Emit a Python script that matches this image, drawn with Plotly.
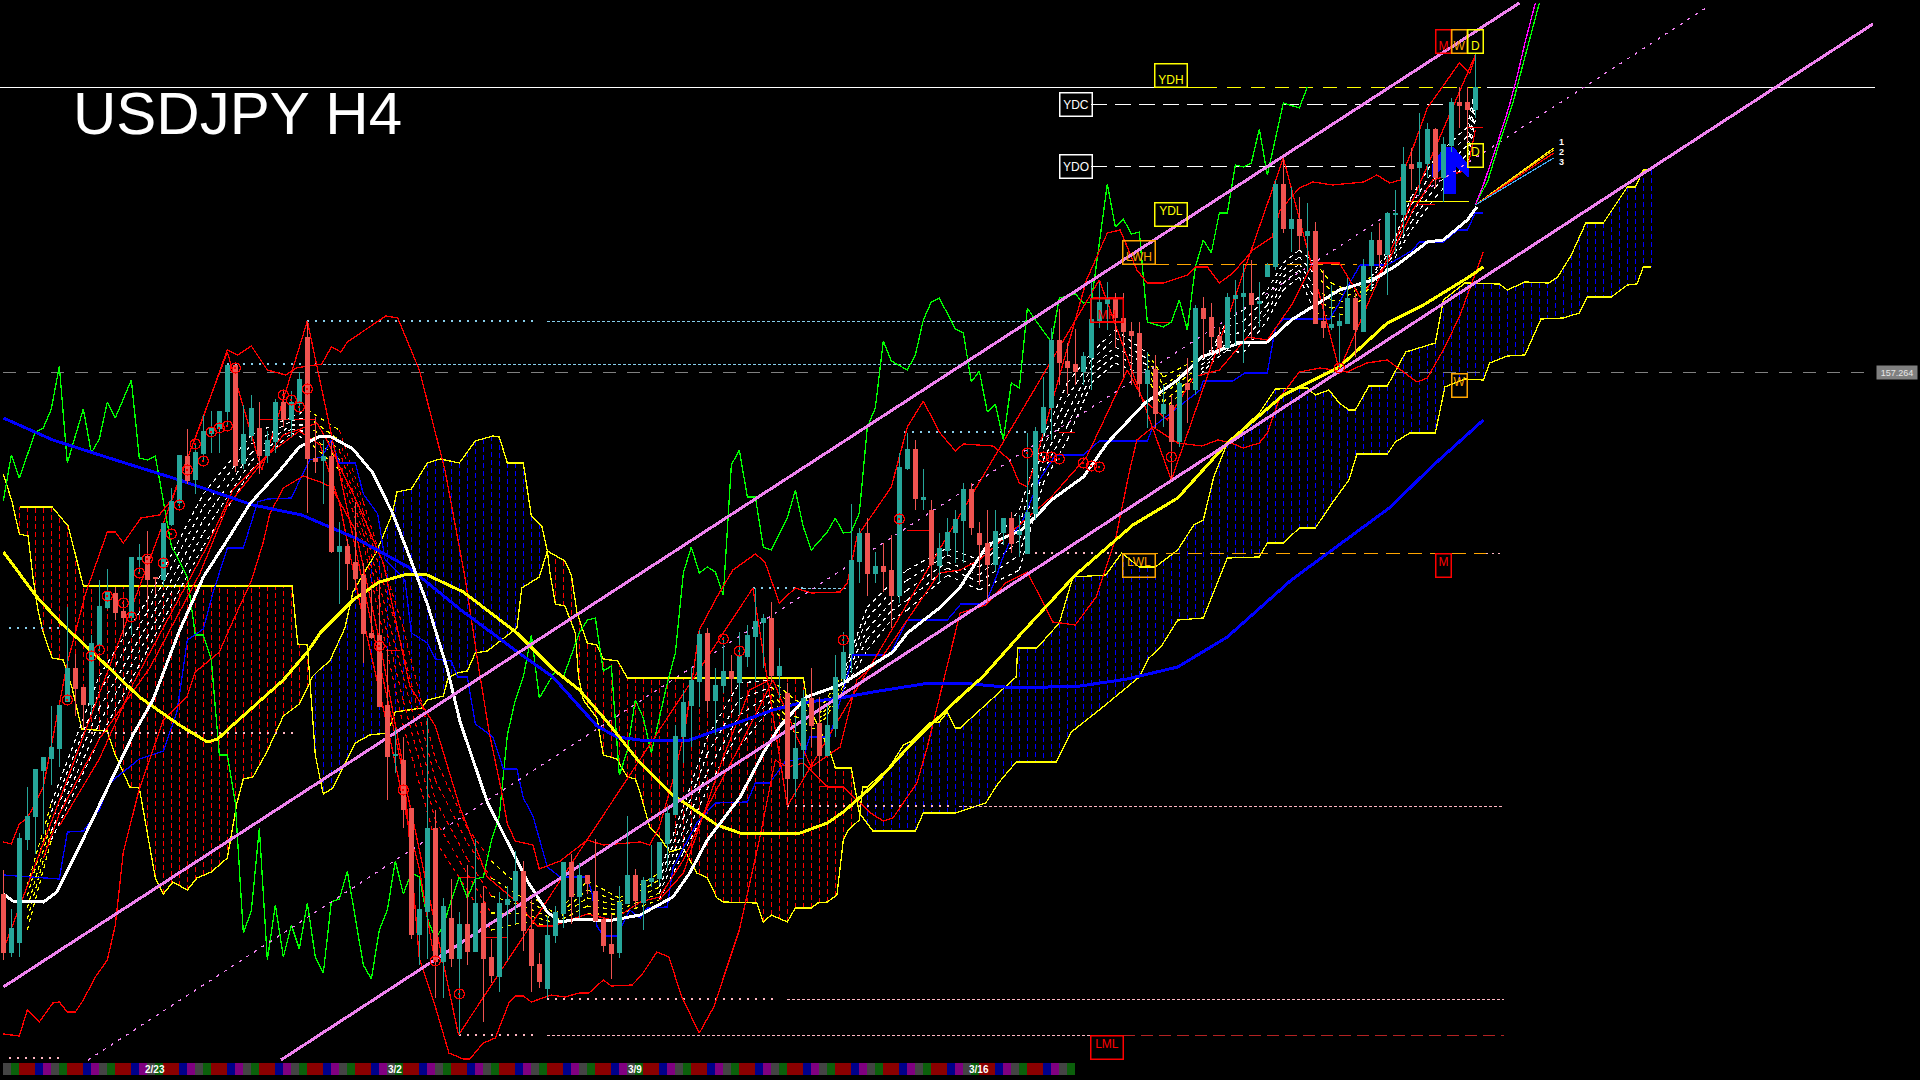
import numpy as np
import plotly.graph_objects as go

BASE = 150.184
# candles: values in pips above BASE
o = [186,128,138,241,264,310,322,332,379,412,393,376,436,473,487,469,463,521,524,503,501,556,578,624,601,627,647,652,669,715,617,645,652,625,639,678,661,677,743,622,
     620,624,529,534,518,505,447,445,375,325,320,272,146,169,252,119,162,122,156,129,177,123,104,176,180,209,151,116,92,145,167,218,184,205,189,161,136,128,177,205,
     178,199,202,237,266,344,375,399,447,380,395,409,398,424,444,458,462,405,387,302,331,382,357,325,352,402,427,519,547,507,514,510,485,612,631,581,570,515,530,548,
     560,591,547,537,516,548,562,546,527,567,648,673,740,719,716,709,723,760,777,782,762,749,747,697,711,667,675,639,697,691,772,763,744,733,782,784,787,777,804,814,
     896,852,861,845,849,759,753,755,757,782,749,815,840,826,866,866,916,913,917,951,903,935,978,978,971]
h = [210,171,247,293,311,323,374,375,473,426,393,445,500,511,493,479,523,536,549,503,557,592,625,651,635,665,669,669,715,715,675,685,678,649,681,689,689,708,759,663,
     640,639,558,541,578,517,492,496,431,352,343,272,201,362,270,182,201,168,215,241,194,141,188,194,229,219,180,127,164,174,218,226,217,205,241,162,166,194,264,211,
     203,235,238,273,355,390,413,450,452,412,443,425,448,455,492,466,478,432,397,363,390,412,383,375,425,448,576,552,562,528,537,545,627,647,640,611,580,547,562,570,
     597,597,558,570,570,562,568,565,647,653,703,752,771,737,751,728,798,798,798,787,787,758,758,728,725,695,685,700,722,775,783,777,753,787,800,815,820,798,817,900,
     922,893,883,877,858,810,795,767,802,787,821,848,857,868,890,933,932,967,957,952,943,982,993,993,1027]
l = [120,123,123,230,226,246,295,313,378,364,352,366,428,471,460,443,445,507,475,485,493,554,572,596,586,619,627,627,655,608,611,639,606,617,627,653,643,665,567,607,
     576,527,476,490,490,417,441,374,280,307,252,141,115,121,82,82,113,46,115,128,58,97,88,119,156,129,88,92,82,137,152,156,162,186,158,128,101,122,177,172,
     150,193,195,212,265,317,333,373,368,345,387,388,365,413,398,412,398,382,275,283,303,333,303,325,343,397,407,497,484,497,488,452,477,610,570,570,500,498,525,517,
     517,545,495,477,508,535,527,523,527,560,643,640,695,686,695,695,690,752,750,732,703,695,683,652,652,653,600,633,657,685,722,727,725,732,735,717,740,753,803,810,
     847,828,830,808,757,742,750,713,757,723,748,790,812,785,827,845,890,885,902,892,878,928,952,938,962]
c = [128,152,242,264,311,323,333,375,412,392,376,437,474,489,468,463,523,523,501,502,557,579,625,600,628,649,653,669,715,615,646,672,625,640,678,661,678,701,622,619,
     624,529,534,517,502,447,443,374,324,326,271,146,171,252,119,174,122,156,129,177,122,105,177,181,209,150,115,99,145,168,218,184,205,197,160,135,127,178,205,180,
     200,202,238,267,344,378,400,446,380,395,409,402,425,445,459,462,405,414,302,332,382,355,325,355,403,428,520,547,507,514,509,485,613,631,582,583,516,532,548,561,
     591,553,536,516,549,562,537,549,568,649,673,740,718,713,709,724,761,778,782,763,749,745,697,710,667,676,639,697,691,772,762,744,733,783,785,787,776,779,815,896,
     852,861,845,849,757,753,756,759,782,751,814,840,826,867,867,916,912,918,951,903,936,978,975,971,993]

ma_blue_b = [0,6.2,14.8,22,31.2,37.3,44,50.6,57.2,64.8,68.7,74.2,76.7,79.6,85.8,90,96.2,99.6,104.6,108.7,115,119.6,126.6,134.6,140.5,146.8,153,161,165.7,173.4,178.5,185]
ma_blue_v = [662,640,618,600,575,565,542,513,470,425,403,354,343,340,340,352,370,377,382,388,396,397,392,394,401,413,443,500,528,573,613,660]
ma_yel_b = [0,4.2,7.2,11.8,17,22,25.5,26.8,28.7,33,35,38,39.6,43.7,47,50.5,53,57.5,64.2,68.7,72,75.5,79.6,83.7,89.2,92.1,99.6,103,105,108.8,113.7,119.6,122.4,127.3,134,141.2,146.8,153,160,167,173,177.5,183,185]
ma_yel_v = [528,483,457,423,383,355,338,341,355,386,400,428,447,480,498,506,505,488,447,411,390,358,317,285,255,247,247,257,268,295,338,383,403,447,505,555,582,637,685,713,757,775,802,813]
ma_wht_b = [0,1.2,5,6.7,9.2,11.7,13.7,16.2,18.7,22,25,28,30.8,34.2,37,39.6,41,43.7,46.2,48.7,50.5,53,55.5,57.1,60.5,63,65.5,68,69.6,72,75.5,79.6,83.7,85.8,88,92.1,95,97,100.4,104.6,111.2,113,117,119.6,123,127.3,129.5,131,135,138,142.7,146.8,149.8,154.5,158,161,164.6,167,171.2,174.2,178,180,183,184.2]
ma_wht_v = [186,179,178,188,228,270,303,345,380,449,503,540,576,606,633,644,643,631,607,566,529,476,411,358,278,239,199,168,158,161,159,165,183,207,240,283,327,353,383,395,428,447,472,493,535,550,567,580,603,637,677,700,723,737,738,760,778,790,800,815,838,840,860,873]

span_a_b = [0,1.1,2,3.1,3.7,4.3,5,6.1,7.5,8.6,9.8,13,14,15.8,17,18,19,20,21.2,23,24.2,26,28,29.2,30,31.2,33,35,37,38.7,39.6,40.8,42.7,43.7,46.7,48.6,49.2,51,53,54.6,57,59,61.2,62,63,65,66,67.3,68,68.3,69,70.2,71.5,71.9,72.5,74.2,75,76.7,78,79,79.6,80.8,82,83.3,85,86.7,88,89.2,90,94.2,95,96,98,99,101,101.8,103,104.2,105,105.6,107,107.4,108,110.8,112.5,113.7,115.8,117,118,119,119.6,126.6,126.8,129.2,132,133.7,137.8,139.8,142,144,146.8,148.8,150,151.3,153,157,159,163,164,165.7,167,168.2,169,170.7,173,175.3,179,180,182.7,187,188,190.2,193.2,194.3,196,197.8,200,203,204,205,206]
span_a_v = [606,578,546,544,503,471,447,422,420,392,351,349,325,293,292,246,202,186,198,190,202,208,222,277,301,303,329,364,376,404,411,419,452,488,529,566,588,591,617,621,617,639,644,643,617,617,564,554,529,509,476,474,447,403,380,362,325,321,303,301,287,253,243,228,232,207,202,182,178,177,158,165,158,172,172,177,178,185,240,250,260,293,293,313,335,340,357,358,368,352,352,403,432,432,457,503,505,527,513,513,530,555,560,603,637,667,691,692,685,690,677,670,670,694,694,728,737,780,797,796,790,798,797,803,825,857,857,893,893,910,910]
span_b_b = [2.1,6.1,8.1,9.2,10,36.1,36.8,38,38.5,39,39.6,40,41.2,42.5,44,45.8,48,49,52.3,53,55,55.6,56.7,58,59,60.5,64.2,64.8,67,68,70.2,71,71.7,73,74.2,75,76.8,78,100,100.5,103.4,104,106,107,108.7,114,115,119,122.8,124.3,126.6,131.6,133.5,137.3,142,143.2,144.7,146.8,150,153,157,158,160,162,164,166.2,168.2,169.2,173,174,175.8,179,180.2,182.7,185,185.8,188,190.2,192.2,195,197,198,201,203,204.2,205,206]
span_b_v = [573,573,554,519,494,494,436,435,384,325,301,286,292,313,337,345,347,368,372,380,384,402,407,409,427,429,452,492,503,529,519,505,468,437,435,421,419,402,402,377,327,312,312,267,249,249,267,267,277,296,318,318,348,372,403,422,433,460,462,522,523,537,537,552,552,578,600,626,626,638,647,647,693,701,700,717,724,725,761,762,767,783,783,795,796,813,813]

green_b = [0,1,2,4,5,6,7,8,10,11,12,13,14,16,17,18,19,21,22,23,24,25,26,27,28,29,30,31,32,33,34,35,36,37,38,39,40,41,42,43,45,46,47,48,49,50,51,52,53,54,55,56,57,58,59,60,61,62,63,64,65,66,67,68,69,70,71,72,73,74,75,76,77,78,79,80,81,83,84,85,86,87,88,89,90,91,92,93,94,95,96,98,99,100,101,103,104,105,106,107,108,109,110,111,113,114,115,116,117,119,120,121,122,123,124,125,126,127,128,129,131,132,134,135,136,138,139,140,141,142,143,145,146,147,148,149,150,151,152,153,154,155,156,157,158,160,162,163]
green_v = [579,625,602,648,652,671,714,617,671,627,641,678,662,700,622,620,624,534,519,503,445,445,420,325,325,277,147,169,252,120,175,123,155,131,177,123,107,178,181,209,115,101,150,170,219,186,207,203,162,141,154,180,203,182,201,203,239,264,345,380,403,445,382,396,409,403,425,447,460,462,409,414,305,329,380,362,327,397,427,507,533,507,513,508,485,615,630,583,583,533,530,562,590,553,530,548,562,547,548,567,653,672,739,719,710,725,760,778,782,751,747,698,709,668,676,640,697,692,772,760,738,782,786,777,778,896,853,861,846,848,758,753,758,780,750,813,840,827,867,867,915,913,917,951,905,977,972,993]

bb_up_b = [0,1,2,3,4,5,8,10.3,13,14,15,17.2,19.5,21,25,28,29.3,31,33,35.3,36.6,39.8,41,42.2,43,46.6,47.8,49.3,52,55.2,57.7,59.6,60.8,62.3,63,64,66.2,67,69.6,73,75,79.6,80.8,82,83.7,85.2,87,89.2,91.2,94,95.2,97,99,101,104.6,105.5,106.7,111,113,115,117,119,120,123.7,125.8,127,128,128.7,135.4,138,139.6,141.7,143,145,148,149,150.5,152,153.7,156.2,158.6,159.6,162,163.7,166.2,170,171.7,173.3,174.6,176.2,178,182,183.3,184]
bb_up_v = [238,236,256,262,277,293,417,487,548,548,537,562,565,580,663,730,725,734,710,705,712,716,733,728,738,758,764,762,710,610,503,403,345,288,256,239,235,211,219,240,235,238,235,253,300,350,450,483,510,526,518,477,492,487,488,497,543,593,653,679,648,629,636,634,620,597,593,610,800,847,850,810,797,797,805,813,813,797,807,830,843,870,892,898,895,898,905,897,900,932,972,1017,1007,1023]
bb_lo_b = [0,2,3,4.5,6.2,7,8,9,10,11.5,13,14,15,17,20,23,24,27,28.7,31,32.5,33.3,35,37.5,39.6,41,44,47,50,52,53.9,55.7,57.5,58.3,60,61.5,63.2,64,65,66,68.5,70.2,72,73.2,75,76,78.6,79.8,81.7,83.2,84.8,87,88.8,92,94.5,96.5,98,100,103,105,108.4,110,111.2,114.2,115.5,118,119.6,122.8,125.3,128,130.5,131.2,134,136.6,139,140.8,141.7,143.7,146.8,149.8,151.8,153.5,155,157,158,159.6,162,164.6,168,170.4,173,174.2,176.7,178,180,182,185]
bb_lo_v = [46,44,70,58,77,78,68,68,80,103,120,155,228,291,360,384,408,428,459,499,538,566,592,604,598,593,550,440,313,121,76,27,21,21,37,42,77,84,84,78,85,83,87,87,100,94,95,105,128,123,83,47,73,150,240,320,313,317,293,293,267,259,262,297,333,413,467,475,497,508,470,458,455,483,540,610,640,653,637,634,640,637,632,637,647,683,708,712,708,717,720,713,698,702,730,763,828]

kijun_b = [0,7,8,10,12,13.3,14.2,17,20,21.7,23,25,26.2,28,30,31.8,33,36,37.3,38.3,39.8,41,42,44,45,46.8,47.7,50.2,51,53,54,56,56.8,58,59,61.2,62.5,64.2,65,66.2,68,69.6,73,73.6,74.2,75,76.7,78.3,79.6,80.5,83,83.7,85,86.7,89,93,94,95.8,97.7,100,100.8,103.3,105,106.2,110.8,113,118,119.7,122.8,124.3,124.8,126.3,127.3,129.5,131.5,135,137,143,143.7,149.6,150,153.7,155.2,158,159,160,165.8,167,168,169.6,173,176.2,177,180,181.8,183,184,185]
kijun_v = [205,201,248,249,270,297,303,321,329,368,440,451,487,532,532,578,581,582,604,620,623,640,617,617,586,566,521,500,447,437,421,419,403,403,356,343,311,311,282,264,213,203,203,186,154,144,144,170,162,172,173,212,232,257,277,278,297,297,318,322,343,343,390,425,425,460,460,476,476,507,520,547,557,600,625,625,639,639,653,690,699,699,707,707,752,761,761,777,793,815,815,830,838,838,850,850,867,867]

zig_b = [0,28,32.3,38,56.9,93.7,98,137,146,160,167,184]
zig_v = [130,728,610,759,45,492,274,800,600,922,710,1025]

ma_red1_b = [5,7,12,18.3,24.6,28,30.8,35,39.2,40.5,44.2,47.5,50.8,54,57.1,60.5,64.2,66.7,68.7,73,76.2,79.6,82,85,88,92,96.2,99.2,101,104.6,106.7,109.6,113,117,119.6,122,131,135.4,138,140.5,142.5,145.5,148.8,152,155.5,158,161.2,163.7,167,169.6,173,176.2,178.7,183,184]
ma_red1_v = [222,266,341,412,507,574,602,645,657,639,578,517,394,354,272,203,178,154,154,166,160,178,183,220,273,333,400,343,313,333,400,420,460,507,510,520,583,623,667,710,680,660,703,710,743,740,777,817,817,783,817,870,900,910,950]
ma_red2_b = [7,12,16.2,22,25.5,28.7,33,37,39.6,42,45,48,50.5,52,53.7]
ma_red2_v = [254,321,396,483,534,590,625,649,635,578,460,354,260,211,129]
ma_red3_b = [82,85,90,93.3,95.8]
ma_red3_v = [180,207,323,390,400]

ribbon_bars = [3,6,12,18,25,31,36,38,42,45,50,54,58,61,65,69,73,77,82,85,88,92,96,99,102,105,108,111,113,118,122,127,130,133,136,139,143,145,149,151,153,155,158,160,162,164,166,168,171,174,176,179,183,184]
ribbon_fast = [195,277,404,480,586,645,663,670,650,578,452,321,252,219,190,166,199,182,207,273,343,397,400,380,370,407,473,497,510,532,520,570,643,697,727,750,727,703,720,730,760,770,790,817,830,817,797,790,803,843,883,923,953,993]
ribbon_q1 = [184,268,388,468,573,636,659,663,640,568,428,300,237,202,182,163,190,178,200,262,326,381,393,372,366,403,462,488,500,525,513,555,632,683,720,742,721,695,715,727,753,759,783,810,823,805,789,784,800,838,875,913,944,985]
ribbon_mid = [172,258,372,455,560,627,655,655,630,557,403,280,221,184,174,160,182,174,193,250,308,365,386,363,361,398,451,478,490,518,505,540,620,668,712,733,715,686,710,723,745,748,775,803,816,792,780,778,796,833,866,903,935,976]
ribbon_q3 = [161,249,357,443,547,619,651,648,620,547,379,260,206,167,166,157,174,170,187,239,291,349,380,355,357,394,441,469,480,512,498,525,609,654,705,725,709,678,705,720,738,738,768,797,810,780,772,773,793,828,858,893,926,968]
ribbon_slow = [150,240,341,430,534,610,647,640,610,537,354,239,190,150,158,154,166,166,180,227,273,333,373,347,353,390,430,460,470,505,490,510,597,640,697,717,703,670,700,717,730,727,760,790,803,767,763,767,790,823,850,883,917,960]
ribbon_change_bars = [0,6,37,40,60,78,95,104,140,147,163,170]
ribbon_change_cols = ['#ffff00','#ffffff','#ffff00','#ff0000','#ffff00','#ffffff','#ffff00','#ffffff','#ffff00','#ffffff','#ffff00','#ffffff']

channel_up_b, channel_up_v = [0,189.5],[93,1077]
channel_lo_b, channel_lo_v = [34.7,233.7],[20,1056]
channel_mid_b, channel_mid_v = [10.6,213.2],[20,1074]

curve_mag_b = [184,185,186.6,188.2,189.2,190.2,191.5]
curve_mag_v = [875,895,933,973,1003,1037,1077]
curve_grn_b = [184,185.6,187,188.7,190,191.2,192]
curve_grn_v = [875,900,937,977,1017,1053,1077]
fan_end_bar = 193.8
fan_cols = ['#ffff00','#ffa500','#ff0000','#3fa9f5']
fan_vals = [932,930,927,922]
fan_labels = ['1','2','3']
fan_label_vals = [938,928,918]

arrow_b = [178.6,180.2,181.2,183.1,183.1,181.5,181.5,180.2,180.2,178.6]
arrow_v = [915,933,933,915,903,915,887,887,915,903]

sig_b = [8,11,12,13,15,16,17,18,20,21,22,23,24,25,26,27,28,29,35,36,37,38,47,50,54,57,90,92,105,112,128,130,131,132,135,136,137,146,167]
sig_v = [380,424,430,484,477,463,507,521,517,546,575,610,636,619,648,652,654,712,685,680,673,691,434,290,119,86,441,429,440,561,627,623,623,621,617,614,613,623,712]

# horizontal levels: pips, start bar, end bar, colour, dash, width
levels = [
 (993,-0.5,144,'#ffffff','solid',1),(993,144,150,'#ffff00','solid',1),(993,150,185.4,'#ffff00','14px,10px',1),(993,185.4,234,'#ffffff','solid',1),
 (708,0,234,'#808080','13px,11px',1),
 (976,136,180,'#ffffff','16px,8px',1),(914,136,174.6,'#ffffff','16px,8px',1),
 (879,175.3,183.2,'#ffff00','solid',1),(816,144,169.2,'#ffa500','14px,8px',1),
 (527,139.8,185.3,'#ffa500','14px,8px',1),(527,185.3,187.6,'#ffb6c1','2px,4px',1),(527,129,139.8,'#ffb6c1','2px,6px',2),
 (45,56.9,67,'#ffb6c1','2px,6px',2),(45,68,140,'#ffb6c1','3px,2px',1),(45,140,187.6,'#b22222','12px,6px',1),
 (81,68,97,'#ffb6c1','2px,6px',2),(81,98,187.6,'#ffb6c1','3px,2px',1),
 (274,98,119,'#ffb6c1','2px,6px',2),(274,119.5,187.6,'#ffb6c1','3px,2px',1),
 (347,10,37,'#ffb6c1','2px,6px',2),(22,0.7,7,'#ffb6c1','2px,6px',2),
 (452,0.7,7.3,'#87ceeb','2px,6px',2),
 (759,38,67,'#87ceeb','2px,6px',2),(759,68,128,'#87ceeb','3px,2px',1),
 (716,28,40,'#87ceeb','2px,6px',2),(716,40,130.8,'#87ceeb','3px,2px',1),
 (648,112.6,128,'#87ceeb','2px,6px',2),(492,93.7,100,'#87ceeb','2px,6px',2),(492,100,105.6,'#87ceeb','3px,2px',1),
]
# short flat red levels
red_flat_val = [661,430,203,143,294,550,648,783,759,758,876,953]
red_flat_b0 = [32,47.8,57,60,102,113,132,136,137,143,177,183]
red_flat_b1 = [39,49.6,59,63,105,116,134,140,140,146,179,185]

# boxed labels
box_text = ['YDH','YDC','YDO','YDL','LWH','LWL','M','W','M','W','D','D','LML','MH']
box_bar = [146,134.1,134.1,146,142,142,180,182,180,182,184,184,138,138]
box_val = [1005,976,914,866,828,515,515,695,1039,1039,1039,925,33,770]
box_col = ['#ffff00','#ffffff','#ffffff','#ffff00','#ffa500','#ffa500','#ff0000','#ffa500','#ff0000','#ffa500','#ffff00','#ffff00','#ff0000','#ff0000']
box_w = [33,33,33,33,33,33,16,16,16,16,16,16,33,33]
box_align = ['bottom','middle','middle','top','bottom','top','top','top','bottom','bottom','bottom','top','top','bottom']

strip_colors = ['#444444','#0b600b','#8b0000','#8b0000','#00008b','#800080']
strip_cells = 134
date_labels = ['2/23','3/2','3/9','3/16']
date_bars = [19,49,79,122]
price_label = '157.264'
title_text = 'USDJPY H4'


def P(v):
    return BASE + np.array(v, dtype=float) / 100

fig = go.Figure()

def line(b, v, color, width=1, dash='solid', name=''):
    fig.add_trace(go.Scatter(x=b, y=P(v), mode='lines', line=dict(color=color, width=width, dash=dash),
                             hoverinfo='skip', showlegend=False, name=name))

# time strip
strip_x = np.arange(strip_cells) + 0.5
fig.add_trace(go.Bar(x=strip_x, y=[0.12] * strip_cells, base=BASE + 0.05, width=1.0,
                     marker=dict(color=[strip_colors[k % 6] for k in range(strip_cells)], line=dict(width=0)),
                     hoverinfo='skip', showlegend=False))

# cloud hatch
hb = np.arange(2, 207)
ha = np.interp(hb, span_a_b, span_a_v)
hs = np.interp(hb, span_b_b, span_b_v)
for col, mask in (('#0000ff', ha >= hs), ('#ff0000', ha < hs)):
    xs, ys = [], []
    for b, u, w in zip(hb[mask], ha[mask], hs[mask]):
        xs += [b, b, None]
        ys += [BASE + u / 100, BASE + w / 100, None]
    fig.add_trace(go.Scatter(x=xs, y=ys, mode='lines', line=dict(color=col, width=1, dash='5px,3px'),
                             hoverinfo='skip', showlegend=False))
line(span_a_b, span_a_v, '#ffff00', 1.3)
line(span_b_b, span_b_v, '#ffff00', 1.3)

# ribbons
for rib in (ribbon_fast, ribbon_q1, ribbon_mid, ribbon_q3, ribbon_slow):
    seg_col = {}
    for i in range(len(ribbon_bars) - 1):
        idx = np.searchsorted(ribbon_change_bars, ribbon_bars[i], side='right') - 1
        col = ribbon_change_cols[idx]
        d = seg_col.setdefault(col, ([], []))
        d[0].extend([ribbon_bars[i], ribbon_bars[i + 1], None])
        d[1].extend([BASE + rib[i] / 100, BASE + rib[i + 1] / 100, None])
    for col, (xs, ys) in seg_col.items():
        fig.add_trace(go.Scatter(x=xs, y=ys, mode='lines', line=dict(color=col, width=1.2, dash='4px,4px'),
                                 hoverinfo='skip', showlegend=False))

# levels
for val, b0, b1, col, dash, w in levels:
    line([b0, b1], [val, val], col, w, dash)
for val, b0, b1 in zip(red_flat_val, red_flat_b0, red_flat_b1):
    line([b0, b1], [val, val], '#ff0000', 1)

# thin lines
line(green_b, green_v, '#00ff00', 1.3)
line(kijun_b, kijun_v, '#0000ff', 1.3)
line(bb_up_b, bb_up_v, '#ff0000', 1.3)
line(bb_lo_b, bb_lo_v, '#ff0000', 1.3)
line(zig_b, zig_v, '#ff0000', 1.3)
line(ma_red1_b, ma_red1_v, '#ff0000', 1.3)
line(ma_red2_b, ma_red2_v, '#ff0000', 1.3)
line(ma_red3_b, ma_red3_v, '#ff0000', 1.3)

# arrow
fig.add_trace(go.Scatter(x=arrow_b + arrow_b[:1], y=P(arrow_v + arrow_v[:1]), mode='lines', fill='toself',
                         fillcolor='#0000ff', line=dict(color='#0000ff', width=1), hoverinfo='skip', showlegend=False))

# thick MAs and channels
line(ma_blue_b, ma_blue_v, '#0000ff', 3)
line(ma_yel_b, ma_yel_v, '#ffff00', 3)
line(ma_wht_b, ma_wht_v, '#ffffff', 3)
line(channel_mid_b, channel_mid_v, '#ee82ee', 1.3, '3px,6px')
line(channel_up_b, channel_up_v, '#ee82ee', 3)
line(channel_lo_b, channel_lo_v, '#ee82ee', 3)
line(curve_grn_b, curve_grn_v, '#00ff00', 1.3)
line(curve_mag_b, curve_mag_v, '#ff00ff', 1.3)
for col, v in zip(fan_cols, fan_vals):
    line([184, fan_end_bar], [875, v], col, 1.2)

# candles on an overlaid axis pair so they sit over the lines
fig.add_trace(go.Candlestick(x=list(range(len(o))), open=P(o), high=P(h), low=P(l), close=P(c),
                             xaxis='x2', yaxis='y2', whiskerwidth=0, hoverinfo='skip', showlegend=False,
                             increasing=dict(line=dict(color='#26a69a', width=1), fillcolor='#26a69a'),
                             decreasing=dict(line=dict(color='#ef5350', width=1), fillcolor='#ef5350')))
# signal rings
fig.add_trace(go.Scatter(x=sig_b, y=P(sig_v), mode='markers', xaxis='x2', yaxis='y2', hoverinfo='skip', showlegend=False,
                         marker=dict(symbol='circle-open-dot', size=10, color='#ff0000', line=dict(color='#ff0000', width=1.2))))

ann = []
for t, b, v, col, w, al in zip(box_text, box_bar, box_val, box_col, box_w, box_align):
    ann.append(dict(x=b, y=P(v), xref='x', yref='y', text=t, showarrow=False, width=w - 2, height=22,
                    valign=al, align='center', bordercolor=col, borderwidth=1.5, borderpad=0,
                    font=dict(family='Liberation Sans', size=12, color=col)))
for t, v in zip(fan_labels, fan_label_vals):
    ann.append(dict(x=fan_end_bar + 1, y=P(v), xref='x', yref='y', text=f'<b>{t}</b>', showarrow=False,
                    font=dict(family='Liberation Sans', size=9, color='#ffffff')))
for t, b in zip(date_labels, date_bars):
    ann.append(dict(x=b, y=P(11), xref='x', yref='y', text=f'<b>{t}</b>', showarrow=False,
                    font=dict(family='Liberation Sans', size=10, color='#ffffff')))
ann.append(dict(x=236.7, y=P(708), xref='x', yref='y', text=price_label, showarrow=False, bgcolor='#808080',
                width=38, height=11, font=dict(family='Liberation Sans', size=9, color='#e8e8e8')))
ann.append(dict(x=71 / 1920, y=1 - 113 / 1080, xref='paper', yref='paper', xanchor='left', yanchor='middle',
                text=title_text, showarrow=False, font=dict(family='Liberation Sans', size=60, color='#ffffff')))

xr = [-3.33 / 8, (1920 - 3.33) / 8]
yr = [BASE, BASE + 10.8]
ax = dict(range=xr, visible=False, fixedrange=True, showgrid=False, zeroline=False, rangeslider=dict(visible=False))
ay = dict(range=yr, visible=False, fixedrange=True, showgrid=False, zeroline=False)
fig.update_layout(width=1920, height=1080, margin=dict(l=0, r=0, t=0, b=0), paper_bgcolor='#000000', plot_bgcolor='#000000',
                  showlegend=False, annotations=ann, bargap=0,
                  xaxis=ax, yaxis=ay,
                  xaxis2=dict(ax, overlaying='x'), yaxis2=dict(ay, overlaying='y'))
post = ("document.body.style.margin='0';document.body.style.background='#000';document.body.style.overflow='hidden';"
        "var st=document.createElement('style');st.textContent='.cartesianlayer path{shape-rendering:crispEdges !important}';"
        "document.head.appendChild(st);")
fig.write_html('out.html', post_script=post, config=dict(displayModeBar=False, staticPlot=True))
